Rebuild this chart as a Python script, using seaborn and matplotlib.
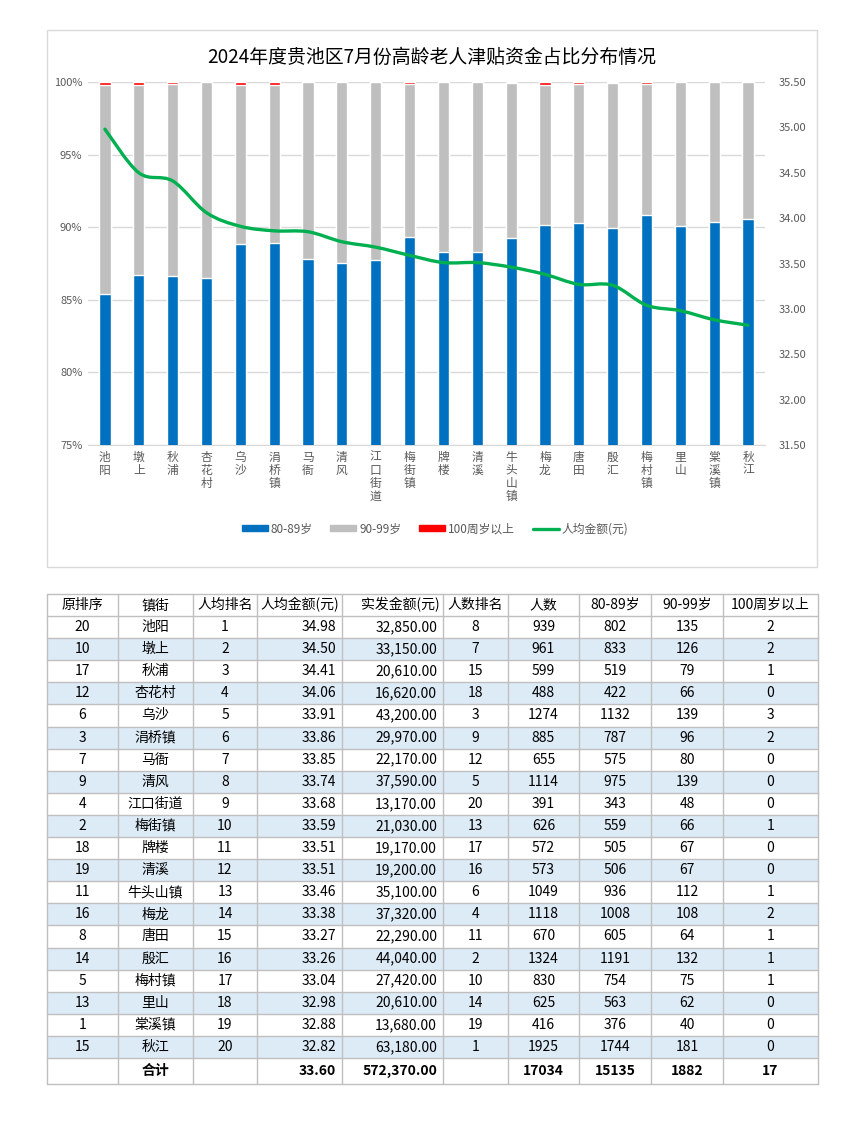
import numpy as np
import pandas as pd
import matplotlib
matplotlib.use('Agg')
import matplotlib.pyplot as plt
import matplotlib.patches as mpatches
from matplotlib.path import Path
from matplotlib.lines import Line2D
import seaborn as sns

sns.set_style('white')
plt.rcParams['font.family'] = ['Noto Sans CJK SC', 'DejaVu Sans']

# data
title = '2024年度贵池区7月份高龄老人津贴资金占比分布情况'
orig_rank = [20, 10, 17, 12, 6, 3, 7, 9, 4, 2, 18, 19, 11, 16, 8, 14, 5, 13, 1, 15]
towns = ['池阳', '墩上', '秋浦', '杏花村', '乌沙', '涓桥镇', '马衙', '清风', '江口街道', '梅街镇',
         '牌楼', '清溪', '牛头山镇', '梅龙', '唐田', '殷汇', '梅村镇', '里山', '棠溪镇', '秋江']
per_cap_rank = [1, 2, 3, 4, 5, 6, 7, 8, 9, 10, 11, 12, 13, 14, 15, 16, 17, 18, 19, 20]
per_cap = [34.98, 34.50, 34.41, 34.06, 33.91, 33.86, 33.85, 33.74, 33.68, 33.59,
           33.51, 33.51, 33.46, 33.38, 33.27, 33.26, 33.04, 32.98, 32.88, 32.82]
paid = [32850, 33150, 20610, 16620, 43200, 29970, 22170, 37590, 13170, 21030,
        19170, 19200, 35100, 37320, 22290, 44040, 27420, 20610, 13680, 63180]
count_rank = [8, 7, 15, 18, 3, 9, 12, 5, 20, 13, 17, 16, 6, 4, 11, 2, 10, 14, 19, 1]
count = [939, 961, 599, 488, 1274, 885, 655, 1114, 391, 626,
         572, 573, 1049, 1118, 670, 1324, 830, 625, 416, 1925]
age80 = [802, 833, 519, 422, 1132, 787, 575, 975, 343, 559,
         505, 506, 936, 1008, 605, 1191, 754, 563, 376, 1744]
age90 = [135, 126, 79, 66, 139, 96, 80, 139, 48, 66,
         67, 67, 112, 108, 64, 132, 75, 62, 40, 181]
age100 = [2, 2, 1, 0, 3, 2, 0, 0, 0, 1, 0, 0, 1, 2, 1, 1, 1, 0, 0, 0]
total_row = ['', '合计', '', '33.60', '572,370.00', '', '17034', '15135', '1882', '17']
headers = ['原排序', '镇街', '人均排名', '人均金额(元)', '实发金额(元)', '人数排名',
           '人数', '80-89岁', '90-99岁', '100周岁以上']

blue, grey, red, green = '#0070C0', '#BFBFBF', '#FF0000', '#00B050'
txt = '#595959'

df = pd.DataFrame({'town': towns, 'n': count, 'a80': age80, 'a90': age90, 'a100': age100,
                   'per_cap': per_cap})
df['p80'] = df['a80'] / df['n'] * 100
df['p90'] = (df['a80'] + df['a90']) / df['n'] * 100
df['p100'] = (df['a80'] + df['a90'] + df['a100']) / df['n'] * 100

W, H = 867, 1130
fig = plt.figure(figsize=(W / 100, H / 100), dpi=100)

# chart frame
fig.patches.append(mpatches.Rectangle((47 / W, 1 - 567 / H), 770 / W, 537 / H,
                                      transform=fig.transFigure, fill=False,
                                      edgecolor='#D9D9D9', lw=1))

ax = fig.add_axes([88 / W, 1 - 445 / H, 677 / W, 363 / H])
w = 0.33
sns.barplot(data=df, x='town', y='p100', color=red, width=w, saturation=1, ax=ax, zorder=2)
sns.barplot(data=df, x='town', y='p90', color=grey, width=w, saturation=1, ax=ax, zorder=3)
sns.barplot(data=df, x='town', y='p80', color=blue, width=w, saturation=1, ax=ax, zorder=4)
ax.set_ylim(75, 100)
ax.set_xlim(-0.5, len(towns) - 0.5)
ax.set_yticks([75, 80, 85, 90, 95, 100])
ax.set_yticklabels([f'{v}%' for v in [75, 80, 85, 90, 95, 100]], color=txt, fontsize=8)
ax.set_xticks(range(len(towns)))
ax.set_xticklabels(['\n'.join(t) for t in towns], color=txt, fontsize=8.5,
                   linespacing=1.0, va='top')
ax.set_xlabel('')
ax.set_ylabel('')
ax.grid(axis='y', color='#D9D9D9', lw=1, zorder=0)
ax.set_axisbelow(True)
for s in ['top', 'left', 'right']:
    ax.spines[s].set_visible(False)
ax.spines['bottom'].set_color('#D9D9D9')
ax.tick_params(axis='both', length=0, pad=4)

ax2 = ax.twinx()
ax2.set_ylim(31.5, 35.5)
ax2.set_yticks(np.arange(31.5, 35.51, 0.5))
ax2.set_yticklabels([f'{v:.2f}' for v in np.arange(31.5, 35.51, 0.5)], color=txt, fontsize=8)
ax2.tick_params(axis='y', length=0, pad=10)
for s in ax2.spines.values():
    s.set_visible(False)

# smoothed line (Catmull-Rom -> bezier, like Excel's smoothed line)
xs = np.arange(len(per_cap), dtype=float)
ys = np.array(per_cap)
pts = np.column_stack([xs, ys])
ext = np.vstack([pts[0], pts, pts[-1]])
verts = [tuple(pts[0])]
codes = [Path.MOVETO]
for i in range(len(pts) - 1):
    p0, p1, p2, p3 = ext[i], ext[i + 1], ext[i + 2], ext[i + 3]
    c1 = p1 + (p2 - p0) / 6
    c2 = p2 - (p3 - p1) / 6
    verts += [tuple(c1), tuple(c2), tuple(p2)]
    codes += [Path.CURVE4] * 3
ax2.add_patch(mpatches.PathPatch(Path(verts, codes), fill=False, edgecolor=green, lw=2.4,
                                 zorder=5, capstyle='round'))

handles = [mpatches.Patch(color=blue, label='80-89岁'),
           mpatches.Patch(color=grey, label='90-99岁'),
           mpatches.Patch(color=red, label='100周岁以上'),
           Line2D([], [], color=green, lw=2.4, label='人均金额(元)')]
fig.legend(handles=handles, loc='center', bbox_to_anchor=(435 / W, 1 - 529 / H), ncol=4,
           frameon=False, fontsize=8.5, handlelength=2.2, handleheight=0.45,
           columnspacing=1.5, handletextpad=0.25, labelcolor=txt)

fig.text(432 / W, 1 - 57 / H, title, ha='center', va='center', fontsize=13.6, color='#000000')

# table
tx = fig.add_axes([0, 0, 1, 1])
tx.set_xlim(0, W)
tx.set_ylim(H, 0)
tx.axis('off')
tx.patch.set_visible(False)

col_x = [47, 118, 193, 257, 342, 443, 508, 579, 651, 723, 818]
row_y = [594, 616] + [616 + 22.1 * (i + 1) for i in range(len(towns))] + [1084]
align = ['c', 'c', 'c', 'r', 'r', 'c', 'c', 'c', 'c', 'c']
line_c = '#BFBFBF'

rows = []
for i in range(len(towns)):
    rows.append([str(orig_rank[i]), towns[i], str(per_cap_rank[i]), f'{per_cap[i]:.2f}',
                 f'{paid[i]:,.2f}', str(count_rank[i]), str(count[i]), str(age80[i]),
                 str(age90[i]), str(age100[i])])

# striped rows
for i in range(len(towns)):
    if i % 2 == 1:
        tx.add_patch(mpatches.Rectangle((col_x[0], row_y[i + 1]), col_x[-1] - col_x[0],
                                        row_y[i + 2] - row_y[i + 1], color='#DDEBF7', lw=0))

def put_row(vals, y0, y1, bold=False, header=False):
    yc = (y0 + y1) / 2
    for j, v in enumerate(vals):
        if align[j] == 'r':
            pad = 3 if header else 6
            tx.text(col_x[j + 1] - pad, yc, v, ha='right', va='center', fontsize=10,
                    fontweight='bold' if bold else 'normal', color='#000000')
        else:
            tx.text((col_x[j] + col_x[j + 1]) / 2, yc, v, ha='center', va='center', fontsize=10,
                    fontweight='bold' if bold else 'normal', color='#000000')

put_row(headers, row_y[0], row_y[1], header=True)
for i, r in enumerate(rows):
    put_row(r, row_y[i + 1], row_y[i + 2])
put_row(total_row, row_y[-2], row_y[-1], bold=True)

for y in row_y:
    tx.plot([col_x[0], col_x[-1]], [y, y], color=line_c, lw=1)
for x in col_x:
    tx.plot([x, x], [row_y[0], row_y[-1]], color=line_c, lw=1)

fig.savefig('out.png', dpi=100)
